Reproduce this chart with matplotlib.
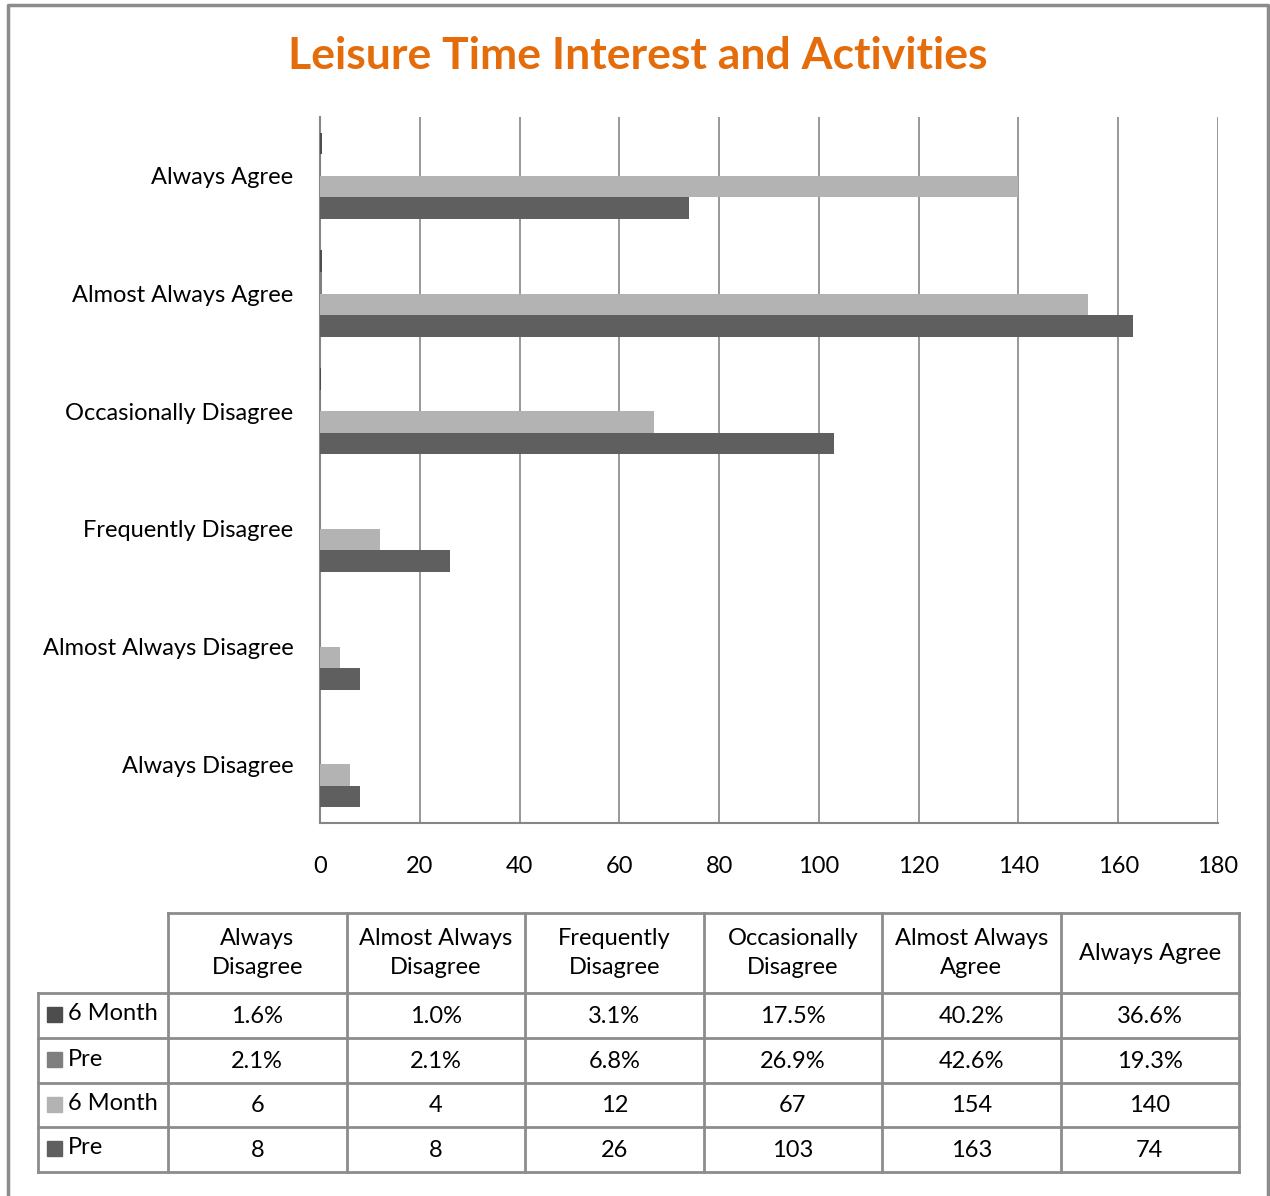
import matplotlib
matplotlib.use("Agg")
import matplotlib.pyplot as plt
import numpy as np

plt.rcParams['font.family'] = ['Lato', 'DejaVu Sans']

# donnees
categories = ["Always Disagree", "Almost Always Disagree", "Frequently Disagree",
              "Occasionally Disagree", "Almost Always Agree", "Always Agree"]
pct_6month = [0.016, 0.010, 0.031, 0.175, 0.402, 0.366]
pct_pre = [0.021, 0.021, 0.068, 0.269, 0.426, 0.193]
cnt_6month = [6, 4, 12, 67, 154, 140]
cnt_pre = [8, 8, 26, 103, 163, 74]
header_labels = ["Always\nDisagree", "Almost Always\nDisagree", "Frequently\nDisagree",
                 "Occasionally\nDisagree", "Almost Always\nAgree", "Always Agree"]
series_names = ["6 Month", "Pre", "6 Month", "Pre"]
series_colors = ["#4d4d4d", "#7f7f7f", "#b3b3b3", "#5f5f5f"]
xticks = [0, 20, 40, 60, 80, 100, 120, 140, 160, 180]

W, H = 1270, 1196
fs = 17
fig = plt.figure(figsize=(W / 100, H / 100), dpi=100)

# calque pour cadre + tableau (coordonnees en pixels)
bg = fig.add_axes([0, 0, 1, 1])
bg.set_xlim(0, W)
bg.set_ylim(H, 0)
bg.axis('off')
bg.plot([8, 8, 1268, 1268], [1200, 5, 5, 1200], color="#8c8c8c", lw=2.5, solid_capstyle='butt')

# graphique
ax = fig.add_axes([320 / W, (H - 823) / H, 898 / W, 706 / H])
y = np.arange(len(categories))
h = 0.183
series = [pct_6month, pct_pre, cnt_6month, cnt_pre]
offsets = [1.5 * h, 0.5 * h, -0.5 * h, -1.5 * h]
for vals, off, col in zip(series, offsets, series_colors):
    ax.barh(y + off, vals, height=h, color=col, zorder=3)

ax.set_xlim(0, 180)
ax.set_ylim(-0.5, len(categories) - 0.5)
ax.set_xticks(xticks)
ax.set_xticklabels([str(t) for t in xticks], fontsize=fs)
ax.set_yticks(y)
ax.set_yticklabels(categories, fontsize=fs)
ax.tick_params(axis='both', length=0)
ax.tick_params(axis='x', pad=24)
ax.tick_params(axis='y', pad=19)
ax.grid(axis='x', color="#868686", lw=1.2, zorder=0)
for s in ['top', 'right']:
    ax.spines[s].set_visible(False)
for s in ['left', 'bottom']:
    ax.spines[s].set_color("#868686")
    ax.spines[s].set_linewidth(1.5)

fig.text(638 / W, 1 - 56 / H, "Leisure Time Interest and Activities", ha='center', va='center',
         fontsize=32, fontweight='bold', color="#e46c0a")

# tableau
col_x = [38, 168] + [168 + 178.5 * (i + 1) for i in range(6)]
row_y = [913, 993, 1038, 1083, 1127, 1172]
lc = "#8c8c8c"
lw = 2
# lignes horizontales
bg.plot([168, col_x[-1]], [row_y[0], row_y[0]], color=lc, lw=lw)
for yy in row_y[1:]:
    bg.plot([38, col_x[-1]], [yy, yy], color=lc, lw=lw)
# lignes verticales
bg.plot([38, 38], [row_y[1], row_y[-1]], color=lc, lw=lw)
for xx in col_x[1:]:
    bg.plot([xx, xx], [row_y[0], row_y[-1]], color=lc, lw=lw)

for j, lab in enumerate(header_labels):
    cx = (col_x[j + 1] + col_x[j + 2]) / 2
    bg.text(cx, (row_y[0] + row_y[1]) / 2, lab, ha='center', va='center', fontsize=fs,
            linespacing=1.45)

rows = [[f"{v * 100:.1f}%" for v in pct_6month],
        [f"{v * 100:.1f}%" for v in pct_pre],
        [str(v) for v in cnt_6month],
        [str(v) for v in cnt_pre]]
for i, (name, col, vals) in enumerate(zip(series_names, series_colors, rows)):
    y0, y1 = row_y[i + 1], row_y[i + 2]
    bg.add_patch(plt.Rectangle((47, y0 + 14), 15, 15, color=col))
    bg.text(68, y0 + 21, name, ha='left', va='center', fontsize=fs)
    for j, v in enumerate(vals):
        cx = (col_x[j + 1] + col_x[j + 2]) / 2
        bg.text(cx, (y0 + y1) / 2 + 1, v, ha='center', va='center', fontsize=fs)

fig.savefig("out.png", dpi=100)
